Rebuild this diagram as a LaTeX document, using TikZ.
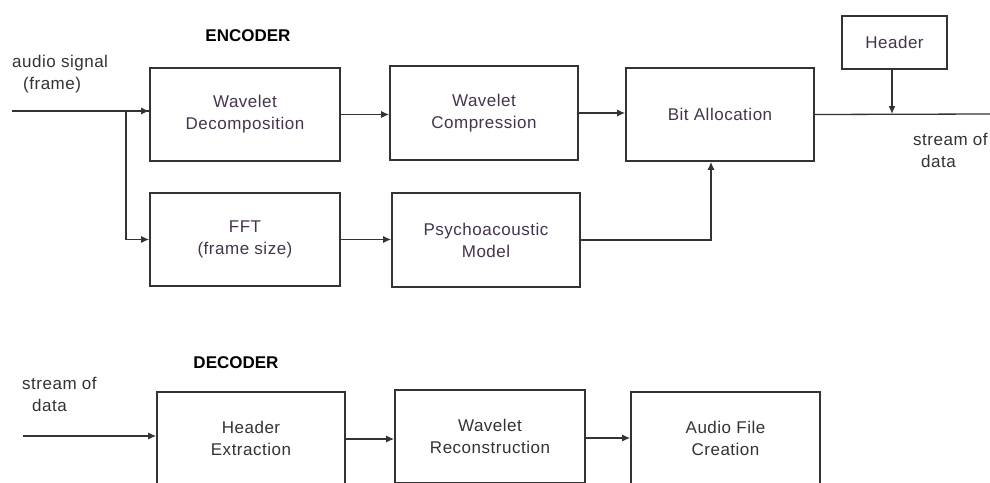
\documentclass[tikz,border=0pt]{standalone}
\usepackage{fontspec}
\setmainfont{Liberation Sans}
\newfontfamily\lbl{Liberation Sans}[LetterSpace=3]
\usetikzlibrary{arrows.meta}
\definecolor{boxline}{HTML}{333333}
\definecolor{conn}{HTML}{333333}
\definecolor{enctext}{HTML}{45344D}
\definecolor{dectext}{HTML}{333333}
\tikzset{
  blk/.style={draw=boxline, line width=1.6pt, minimum width=188pt, minimum height=93pt,
    inner sep=0pt, align=center, font=\lbl\fontsize{17}{22}\selectfont},
  enc/.style={blk, text=enctext},
  dec/.style={blk, text=dectext},
  conn/.style={draw=conn, line width=1.3pt, -{Latex[length=8pt,width=7pt]}},
  plain/.style={draw=conn, line width=1.3pt},
  title/.style={font=\bfseries\fontsize{17}{20}\selectfont, text=black, inner sep=0pt},
  side/.style={font=\lbl\fontsize{17}{22}\selectfont, text=dectext, align=left, inner sep=0pt, anchor=north west}
}
\begin{document}
\begin{tikzpicture}[x=1pt,y=-1pt]
\clip (0,0) rectangle (990,482);
\fill[white] (0,0) rectangle (990,482);
% encoder
\node[title] (enctitle) at (248,36) {ENCODER};
\node[side] (ainlbl) at (12,55) {audio signal\\\hspace*{11pt}(frame)};
\node[enc, minimum width=190pt] (wd) at (245,114.5) {Wavelet\\Decomposition};
\node[enc, minimum height=94pt] (wc) at (484,113) {Wavelet\\Compression};
\node[enc] (ba) at (720,114.5) {Bit Allocation};
\node[enc, minimum width=105pt, minimum height=53pt] (hdr) at (894.5,42.5) {Header};
\node[enc, minimum width=190pt] (fft) at (245,239.5) {FFT\\(frame size)};
\node[enc, minimum height=94pt] (pm) at (486,240) {Psychoacoustic\\Model};
\node[side] (outlbl) at (913,133) {stream of\\\hspace*{8pt}data};
\coordinate (ain) at (12,111);
\coordinate (br) at (126,111);
\coordinate (out) at (990,114);
\coordinate (pmup) at (711,0);
\draw[plain, line width=1.6pt] (ain) -- (ain -| wd.west);
\draw[conn] (br) -- (ain -| wd.west);
\draw[conn] (br) |- (fft.west);
\draw[conn] (wd.east) -- (wd.east -| wc.west);
\draw[conn] (wc.east) -- (wc.east -| ba.west);
\draw[plain] (ba.east) -- (out);
\draw[conn] (hdr.south -| 892,0) -- (892,114);
\draw[conn] (fft.east) -- (fft.east -| pm.west);
\draw[conn] (pm.east) -| (pmup |- ba.south);
% decoder
\node[title] (dectitle) at (236,363) {DECODER};
\node[side] (dinlbl) at (22,377) {stream of\\\hspace*{10pt}data};
\node[dec] (he) at (251,438.5) {Header\\Extraction};
\node[dec, minimum width=190pt] (wr) at (490,436.5) {Wavelet\\Reconstruction};
\node[dec, minimum width=189pt] (af) at (725.5,438.5) {Audio File\\Creation};
\coordinate (din) at (23,436);
\draw[conn] (din) -- (din -| he.west);
\draw[conn] (he.east |- 0,439) -- (wr.west |- 0,439);
\draw[conn] (wr.east |- 0,438) -- (af.west |- 0,438);
\end{tikzpicture}
\end{document}
